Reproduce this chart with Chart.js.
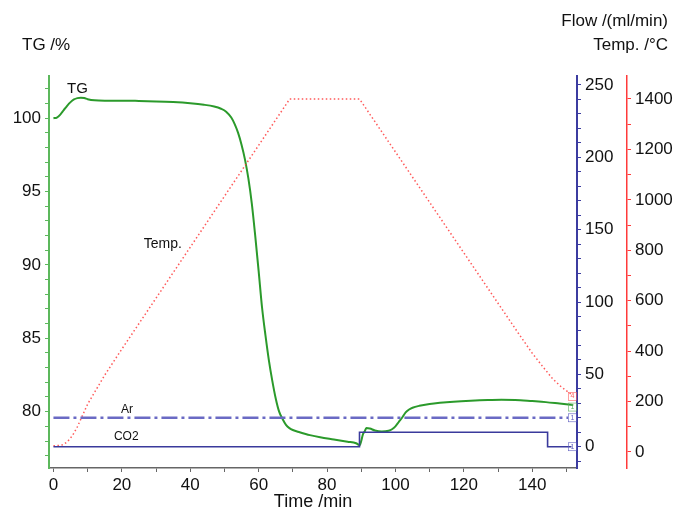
<!DOCTYPE html>
<html>
<head>
<meta charset="utf-8">
<script src="https://cdn.jsdelivr.net/npm/chart.js@4"></script>
<style>
  html, body { margin: 0; padding: 0; background: #fff; }
  #wrap { width: 681px; height: 510px; }
</style>
</head>
<body>
<div id="wrap"><canvas id="chart"></canvas></div>
<script>
// TG mass curve (%)
const tgTime = [0, 1, 2, 3, 4, 5, 6, 7, 8, 9, 10, 12, 15, 20, 25, 30, 35, 40, 44, 47, 49, 50.5, 52, 53, 54, 55, 56, 57, 58, 59, 60, 61, 62, 63, 64, 65, 66, 67, 68, 69, 70, 72, 75, 78, 82, 86, 88.5, 89.2, 89.6, 90, 90.5, 91, 91.5, 92.5, 94, 96, 98, 99, 100, 101, 102, 103, 104, 105, 107, 110, 113, 117, 122, 127, 131, 135, 140, 144, 148, 152];
const tgValue = [100.0, 100.05, 100.25, 100.55, 100.85, 101.1, 101.28, 101.37, 101.4, 101.38, 101.3, 101.22, 101.2, 101.2, 101.18, 101.15, 101.1, 101.02, 100.92, 100.8, 100.65, 100.45, 100.05, 99.6, 99.0, 98.2, 97.2, 95.9, 94.2, 92.0, 89.6, 87.1, 85.2, 83.5, 82.1, 80.9, 80.0, 79.5, 79.1, 78.88, 78.75, 78.6, 78.4, 78.25, 78.1, 77.95, 77.85, 77.75, 77.7, 78.0, 78.45, 78.65, 78.88, 78.85, 78.72, 78.65, 78.7, 78.8, 79.0, 79.3, 79.6, 79.95, 80.15, 80.27, 80.4, 80.52, 80.6, 80.68, 80.75, 80.8, 80.82, 80.8, 80.72, 80.65, 80.55, 80.45];

// furnace temperature (°C)
const tempTime = [0, 2, 3, 4, 5, 6, 7, 8, 10, 15, 20, 30, 40, 50, 60, 69.1, 89.5, 100, 110, 120, 130, 136, 140, 143, 146, 148.5, 151.5];
const tempValue = [25, 26, 30, 40, 55, 75, 100, 130, 190, 305, 408, 610, 812, 1014, 1216, 1400, 1400, 1190, 990, 790, 590, 470, 392, 340, 290, 258, 228];

// gas flows (ml/min)
const arTime = [0, 150.5];
const arFlow = [20, 20];
const co2Time = [0, 89.5, 89.5, 144.5, 144.5, 151.5];
const co2Flow = [0, 0, 10, 10, 0, 0];

// axis ticks
const timeTicks = [0, 10, 20, 30, 40, 50, 60, 70, 80, 90, 100, 110, 120, 130, 140, 150];
const tgTicks = [77, 78, 79, 80, 81, 82, 83, 84, 85, 86, 87, 88, 89, 90, 91, 92, 93, 94, 95, 96, 97, 98, 99, 100, 101, 102];
const flowTicks = [-10, 0, 10, 20, 30, 40, 50, 60, 70, 80, 90, 100, 110, 120, 130, 140, 150, 160, 170, 180, 190, 200, 210, 220, 230, 240, 250];
const tempTicks = [0, 100, 200, 300, 400, 500, 600, 700, 800, 900, 1000, 1100, 1200, 1300, 1400];

const pts = (xs, ys) => xs.map((x, i) => ({ x: x, y: ys[i] }));
const setTicks = (arr) => (scale) => { scale.ticks = arr.map((v) => ({ value: v })); };

const FONT = "'Liberation Sans', Arial, sans-serif";
const GREEN_AX = "#5cb85c";
const BLUE_AX = "#3c3ca0";
const RED_AX = "#ff3a3a";

const labels = {
  id: "labels",
  afterDraw(chart) {
    const c = chart.ctx;
    const x = chart.scales.x, y = chart.scales.y, f = chart.scales.y1, t = chart.scales.y2;
    c.save();
    c.fillStyle = "#111";
    c.font = "17px " + FONT;
    c.textBaseline = "middle";
    c.textAlign = "left";
    c.fillText("TG /%", 22, 45);
    c.textAlign = "right";
    c.fillText("Flow /(ml/min)", 668, 21);
    c.fillText("Temp. /°C", 668, 45);
    c.textAlign = "center";
    c.font = "18px " + FONT;
    c.fillText("Time /min", (chart.chartArea.left + chart.chartArea.right) / 2, 502);

    c.font = "15px " + FONT;
    c.fillText("TG", x.getPixelForValue(7), y.getPixelForValue(102.0));
    c.font = "14px " + FONT;
    c.fillText("Temp.", x.getPixelForValue(32), y.getPixelForValue(91.4));
    c.font = "12px " + FONT;
    c.fillText("Ar", x.getPixelForValue(21.5), f.getPixelForValue(25.5));
    c.fillText("CO2", x.getPixelForValue(21.3), f.getPixelForValue(7));

    // small end markers
    c.font = "7px " + FONT;
    const mk = (txt, col, px, py) => {
      c.fillStyle = col;
      c.strokeStyle = col;
      c.lineWidth = 0.6;
      c.fillText(txt, px, py);
      c.strokeRect(px - 4, py - 4, 8, 8);
    };
    const ex = x.getPixelForValue(151.8);
    mk("4", "#ff6060", ex, t.getPixelForValue(228) + 2);
    mk("1", "#60b060", ex, y.getPixelForValue(80.45) + 2);
    mk("1", "#6060c0", ex, f.getPixelForValue(20));
    mk("1", "#6060c0", ex, f.getPixelForValue(0));
    c.restore();
  }
};

const ctx = document.getElementById("chart");
new Chart(ctx, {
  type: "line",
  data: {
    datasets: [
      {
        label: "CO2",
        data: pts(co2Time, co2Flow),
        yAxisID: "y1",
        borderColor: "#3a3a9c",
        borderWidth: 1.6,
        pointRadius: 0,
        tension: 0,
      },
      {
        label: "Ar",
        data: pts(arTime, arFlow),
        yAxisID: "y1",
        borderColor: "#6a6ac4",
        borderWidth: 2.5,
        borderDash: [16, 4, 3, 4],
        pointRadius: 0,
        tension: 0,
      },
      {
        label: "Temp.",
        data: pts(tempTime, tempValue),
        yAxisID: "y2",
        borderColor: "rgba(255,60,60,0.85)",
        borderWidth: 1.5,
        borderDash: [1.5, 2.5],
        pointRadius: 0,
        tension: 0,
      },
      {
        label: "TG",
        data: pts(tgTime, tgValue),
        yAxisID: "y",
        borderColor: "#2b9a2b",
        borderWidth: 2,
        pointRadius: 0,
        cubicInterpolationMode: "monotone",
      },
    ],
  },
  options: {
    responsive: true,
    maintainAspectRatio: false,
    animation: false,
    layout: { padding: { top: 76, left: 5, right: 4, bottom: 0 } },
    plugins: {
      legend: { display: false },
      tooltip: { enabled: false },
    },
    scales: {
      x: {
        type: "linear",
        min: -1.3,
        max: 153.1,
        afterBuildTicks: setTicks(timeTicks),
        afterFit: (s) => { s.height = 42; },
        border: { color: "#666", width: 1.5 },
        grid: { drawOnChartArea: false, tickLength: 4, color: "#666" },
        ticks: {
          autoSkip: false,
          maxRotation: 0,
          padding: 3,
          color: "#111",
          font: { family: FONT, size: 17 },
          callback: (v) => (v % 20 === 0 && v <= 140 ? v : ""),
        },
      },
      y: {
        position: "left",
        min: 76.16,
        max: 102.88,
        afterBuildTicks: setTicks(tgTicks),
        afterFit: (s) => { s.width = 44; },
        border: { color: GREEN_AX, width: 2 },
        grid: { drawOnChartArea: false, tickLength: 4, color: GREEN_AX },
        ticks: {
          autoSkip: false,
          padding: 4,
          color: "#111",
          font: { family: FONT, size: 17 },
          callback: (v) => (v % 5 === 0 ? v : ""),
        },
      },
      y1: {
        position: "right",
        min: -14.7,
        max: 256.2,
        afterBuildTicks: setTicks(flowTicks),
        afterFit: (s) => { s.width = 50; },
        border: { color: BLUE_AX, width: 2 },
        grid: { drawOnChartArea: false, tickLength: 4, color: BLUE_AX },
        ticks: {
          autoSkip: false,
          padding: 4,
          color: "#111",
          font: { family: FONT, size: 17 },
          callback: (v) => (v >= 0 && v % 50 === 0 ? v : ""),
        },
      },
      y2: {
        position: "right",
        min: -63.5,
        max: 1491,
        afterBuildTicks: setTicks(tempTicks),
        afterFit: (s) => { s.width = 50; },
        border: { color: RED_AX, width: 1.5 },
        grid: { drawOnChartArea: false, tickLength: 4, color: RED_AX },
        ticks: {
          autoSkip: false,
          padding: 4,
          color: "#111",
          font: { family: FONT, size: 17 },
          callback: (v) => (v % 200 === 0 ? v : ""),
        },
      },
    },
  },
  plugins: [labels],
});
</script>
</body>
</html>
